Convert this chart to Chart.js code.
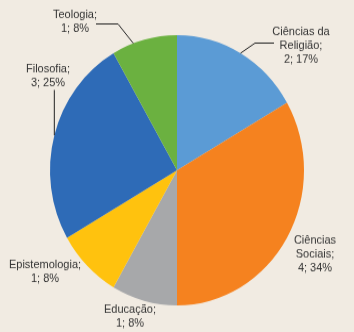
<!DOCTYPE html>
<html>
<head>
<meta charset="utf-8">
<script src="https://cdn.jsdelivr.net/npm/chart.js@4/dist/chart.umd.min.js"></script>
<style>
    html, body { margin: 0; padding: 0; background: #F1EBE2; }
    canvas { display: block; }
</style>
</head>
<body>
<canvas id="c" width="354" height="312" style="width:354px;height:332px"></canvas>
<script>
// data
var categories = ['Ciências da Religião', 'Ciências Sociais', 'Educação', 'Epistemologia', 'Filosofia', 'Teologia'];
var nameLines = [['Ciências da', 'Religião'], ['Ciências', 'Sociais'], ['Educação'], ['Epistemologia'], ['Filosofia'], ['Teologia']];
var counts = [2, 4, 1, 1, 3, 1];
var percents = ['17%', '34%', '8%', '8%', '25%', '8%'];
var colors = ['#5B9BD5', '#F5821F', '#A7A8AA', '#FFC20E', '#2E6BB7', '#6BB140'];

// where the label text sits, and how its leader line runs to the slice
var labelLayout = [
    { x: 301, y: 30, leader: { from: [274, 40.5], elbow: [255, 40.5], at: 0.5 } },
    { x: 315, y: 225.5 },
    { x: 130, y: 290.5 },
    { x: 45, y: 249 },
    { x: 48, y: 65, leader: { vertical: true, from: 84.5, at: 0.5 } },
    { x: 75, y: 14, leader: { from: [96, 22.5], elbow: [118, 22.5], at: 0.33 } }
];

var pieLabels = {
    id: 'pieLabels',
    afterDatasetsDraw: function (chart) {
        var ctx = chart.ctx;
        var arcs = chart.getDatasetMeta(0).data;
        ctx.save();
        ctx.font = '11px "Liberation Sans", Arial, sans-serif';
        ctx.fillStyle = '#333333';
        ctx.textAlign = 'center';
        ctx.textBaseline = 'middle';
        arcs.forEach(function (arc, i) {
            var lay = labelLayout[i];
            var lines = nameLines[i].slice();
            lines[lines.length - 1] += ';';
            lines.push(counts[i] + '; ' + percents[i]);
            lines.forEach(function (t, k) {
                ctx.fillText(t, lay.x, lay.y + k * 13.2);
            });
            if (lay.leader) {
                var p = arc.getProps(['x', 'y', 'startAngle', 'endAngle', 'outerRadius'], true);
                var a = p.startAngle + (p.endAngle - p.startAngle) * lay.leader.at;
                var ex = p.x + Math.cos(a) * p.outerRadius;
                var ey = p.y + Math.sin(a) * p.outerRadius;
                ctx.beginPath();
                ctx.strokeStyle = '#222222';
                ctx.lineWidth = 1;
                if (lay.leader.vertical) {
                    ctx.moveTo(ex, lay.leader.from);
                } else {
                    ctx.moveTo(lay.leader.from[0], lay.leader.from[1]);
                    ctx.lineTo(lay.leader.elbow[0], lay.leader.elbow[1]);
                }
                ctx.lineTo(ex, ey);
                ctx.stroke();
            }
        });
        ctx.restore();
    }
};

var chart = new Chart(document.getElementById('c').getContext('2d'), {
    type: 'pie',
    data: {
        labels: categories,
        datasets: [{
            data: counts,
            backgroundColor: colors,
            borderWidth: 0
        }]
    },
    options: {
        responsive: false,
        animation: false,
        layout: { padding: { left: 50, right: 50, top: 33, bottom: 25 } },
        plugins: {
            legend: { display: false },
            tooltip: { enabled: false }
        }
    },
    plugins: [pieLabels]
});
</script>
</body>
</html>
